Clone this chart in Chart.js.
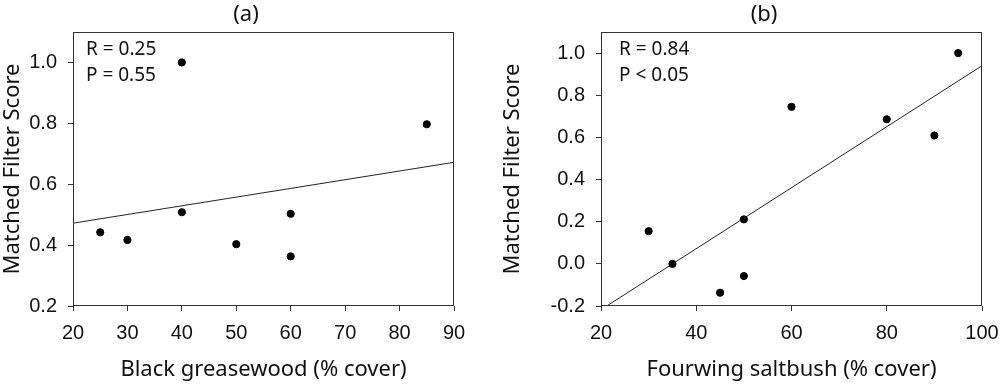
<!DOCTYPE html>
<html>
<head>
<meta charset="utf-8">
<script src="https://cdn.jsdelivr.net/npm/chart.js@4"></script>
<style>
  body { margin: 0; background: #fff; }
  .box { position: absolute; top: 0; width: 500px; height: 385px; }
</style>
</head>
<body>
<div class="box" style="left:0"><canvas id="chartA" width="500" height="385"></canvas></div>
<div class="box" style="left:500px"><canvas id="chartB" width="500" height="385"></canvas></div>
<script>
// (a) black greasewood
const coverA = [25, 30, 40, 40, 50, 60, 60, 85];
const scoreA = [0.442, 0.417, 1.0, 0.508, 0.403, 0.503, 0.363, 0.797];
const fitA = [{ x: 20, y: 0.472 }, { x: 90, y: 0.672 }];

// (b) fourwing saltbush
const coverB = [30, 35, 45, 50, 50, 60, 80, 90, 95];
const scoreB = [0.155, 0.0, -0.137, 0.211, -0.058, 0.745, 0.686, 0.609, 1.0];
const fitB = [{ x: 21.2, y: -0.2 }, { x: 100, y: 0.94 }];

const axisColor = '#333';
const tickFont = { family: '"Liberation Sans", Arial, sans-serif', size: 20 };
const titleFont = { family: '"Noto Sans", "Open Sans", sans-serif', size: 22 };

function makeChart(id, opts) {
    const points = opts.x.map((v, i) => ({ x: v, y: opts.y[i] }));

    const frame = {
        id: 'frame',
        afterDraw(chart) {
            const ctx = chart.ctx;
            const a = chart.chartArea;
            ctx.save();
            ctx.strokeStyle = axisColor;
            ctx.lineWidth = 1;
            ctx.strokeRect(a.left + 0.5, a.top + 0.5, a.right - a.left - 1, a.bottom - a.top - 1);
            ctx.fillStyle = '#111';
            ctx.textBaseline = 'middle';
            ctx.font = '22px "Noto Sans", "Open Sans", sans-serif';
            ctx.textAlign = 'center';
            ctx.fillText(opts.label, opts.labelX, 15);
            ctx.font = '19px "Noto Sans", "Open Sans", sans-serif';
            ctx.textAlign = 'left';
            ctx.fillText(opts.stats[0], a.left + opts.statX, 50);
            ctx.fillText(opts.stats[1], a.left + opts.statX, 76);
            ctx.restore();
        }
    };

    return new Chart(document.getElementById(id), {
        type: 'scatter',
        data: {
            datasets: [
                {
                    data: points,
                    backgroundColor: '#000',
                    borderColor: '#000',
                    pointRadius: 3.6,
                    pointHoverRadius: 3.6
                },
                {
                    type: 'line',
                    data: opts.fit,
                    borderColor: '#222',
                    borderWidth: 1,
                    pointRadius: 0,
                    fill: false
                }
            ]
        },
        options: {
            responsive: false,
            animation: false,
            layout: { padding: { top: 32, right: opts.padRight, bottom: 0, left: 0 } },
            plugins: { legend: { display: false }, tooltip: { enabled: false } },
            scales: {
                x: {
                    type: 'linear',
                    min: opts.xMin,
                    max: opts.xMax,
                    // last tick label may run past the canvas edge, like the original
                    afterFit(s) { s.height = 79; s.paddingRight = 0; s.paddingLeft = 0; },
                    ticks: { stepSize: opts.xStep, color: '#111', font: tickFont, padding: 10, maxRotation: 0 },
                    grid: { display: true, drawOnChartArea: false, drawTicks: true, tickLength: 5, color: axisColor },
                    border: { display: false },
                    title: { display: true, text: opts.xTitle, color: '#111', font: titleFont, padding: { top: 0, bottom: 2 } }
                },
                y: {
                    min: opts.yMin,
                    max: 1.1,
                    afterFit(s) { s.width = opts.yWidth; },
                    ticks: {
                        stepSize: 0.2,
                        includeBounds: false,
                        color: '#111',
                        font: tickFont,
                        padding: 11,
                        callback: v => v.toFixed(1)
                    },
                    grid: { display: true, drawOnChartArea: false, drawTicks: true, tickLength: 5, color: axisColor },
                    border: { display: false },
                    title: { display: true, text: 'Matched Filter Score', color: '#111', font: titleFont, padding: { top: 0, bottom: 0 } }
                }
            }
        },
        plugins: [frame]
    });
}

makeChart('chartA', {
    x: coverA, y: scoreA, fit: fitA,
    xMin: 20, xMax: 90, xStep: 10, yMin: 0.2,
    yWidth: 73, padRight: 46,
    xTitle: 'Black greasewood (% cover)',
    label: '(a)', labelX: 246, statX: 13,
    stats: ['R = 0.25', 'P = 0.55']
});

makeChart('chartB', {
    x: coverB, y: scoreB, fit: fitB,
    xMin: 20, xMax: 100, xStep: 20, yMin: -0.2,
    yWidth: 101, padRight: 18,
    xTitle: 'Fourwing saltbush (% cover)',
    label: '(b)', labelX: 264, statX: 18,
    stats: ['R = 0.84', 'P < 0.05']
});
</script>
</body>
</html>
